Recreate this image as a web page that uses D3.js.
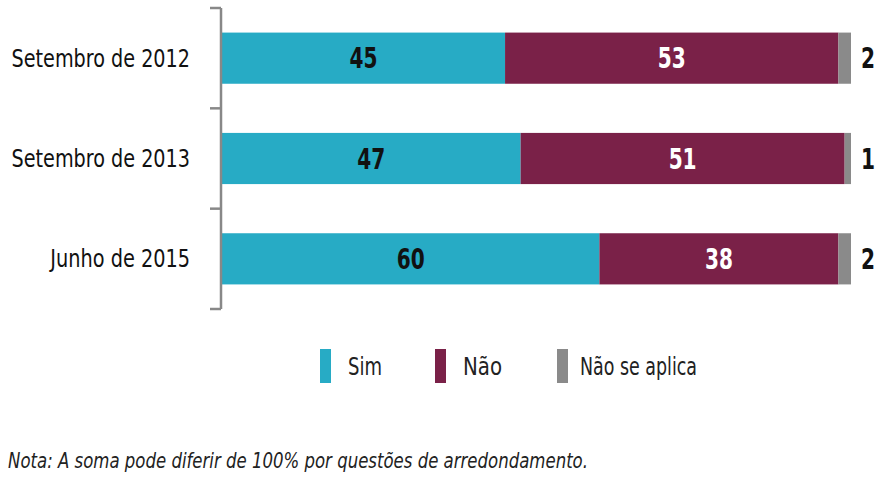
<!DOCTYPE html>
<html><head><meta charset="utf-8">
<script src="https://cdn.jsdelivr.net/npm/d3@7"></script>
<style>
body{margin:0;background:#fff;}
text{font-family:"DejaVu Sans Condensed","Liberation Sans Narrow",sans-serif;}
</style></head>
<body><svg id="c" width="887" height="478"></svg>
<script>
const categories = ["Setembro de 2012","Setembro de 2013","Junho de 2015"];
const seriesNames = ["Sim","Não","Não se aplica"];
const sim = [45,47,60];
const nao = [53,51,38];
const naoSeAplica = [2,1,2];
const colors = ["#27abc5","#7a2148","#8a8a8a"];
const note = "Nota: A soma pode diferir de 100% por questões de arredondamento.";

const rows = categories.map((c,i)=>({cat:c,"Sim":sim[i],"Não":nao[i],"Não se aplica":naoSeAplica[i]}));
const stack = d3.stack().keys(seriesNames).offset(d3.stackOffsetExpand)(rows);

const svg = d3.select("#c");
const x = d3.scaleLinear().domain([0,1]).range([222,851]);
const y = d3.scaleBand().domain(categories).range([8,309]).paddingInner(0.49).paddingOuter(0.245);

svg.append("g").selectAll("g").data(stack).join("g")
  .attr("fill",(d,i)=>colors[i])
  .selectAll("rect").data(d=>d).join("rect")
  .attr("x",d=>x(d[0])).attr("width",d=>x(d[1])-x(d[0]))
  .attr("y",d=>y(d.data.cat)).attr("height",y.bandwidth());

// axis
const axisG = svg.append("g").attr("transform","translate(221,0)");
axisG.append("line").attr("x1",0).attr("x2",0).attr("y1",8).attr("y2",309).attr("stroke","#888").attr("stroke-width",2.5);
const tickYs = d3.range(categories.length+1).map(i=>8+i*(301/categories.length));
axisG.selectAll(".tk").data(tickYs).join("line").attr("x1",-11).attr("x2",0).attr("y1",d=>d).attr("y2",d=>d).attr("stroke","#888").attr("stroke-width",2.5);

const fit = (sel, per)=> sel.attr("textLength",per).attr("lengthAdjust","spacingAndGlyphs");

fit(svg.append("g").selectAll("text").data(categories).join("text")
  .attr("x",190).attr("y",d=>y(d)+y.bandwidth()/2).attr("dy","0.35em")
  .attr("text-anchor","end").attr("font-size",24).attr("fill","#111").text(d=>d),
  d=> d.length*10.9 + (d.length<16 ? -2 : 4));

// value labels
stack.forEach((s,si)=>{
  fit(svg.append("g").selectAll("text").data(s).join("text")
    .attr("x",d=> si<2 ? (x(d[0])+x(d[1]))/2 : 868)
    .attr("y",d=>y(d.data.cat)+y.bandwidth()/2).attr("dy","0.36em")
    .attr("text-anchor","middle").attr("font-weight","bold").attr("font-size",28)
    .attr("fill", si===1 ? "#fff" : "#111")
    .text((d,i)=>[sim,nao,naoSeAplica][si][i]),
    (d,i)=> String([sim,nao,naoSeAplica][si][i]).length*14);
});

// legend
const legX = [320,435,557];
const legW = [34,39,117];
const lg = svg.append("g");
seriesNames.forEach((n,i)=>{
  lg.append("rect").attr("x",legX[i]).attr("y",349).attr("width",11).attr("height",34).attr("fill",colors[i]);
  lg.append("text").attr("x",legX[i]+(i===2?23:28)).attr("y",367).attr("dy","0.35em").attr("font-size",24).attr("fill","#222")
    .attr("textLength",legW[i]).attr("lengthAdjust","spacingAndGlyphs").text(n);
});

svg.append("text").attr("x",8).attr("y",468).attr("font-size",21).attr("font-style","italic").attr("fill","#222")
  .attr("textLength",580).attr("lengthAdjust","spacingAndGlyphs").text(note);
</script></body></html>
